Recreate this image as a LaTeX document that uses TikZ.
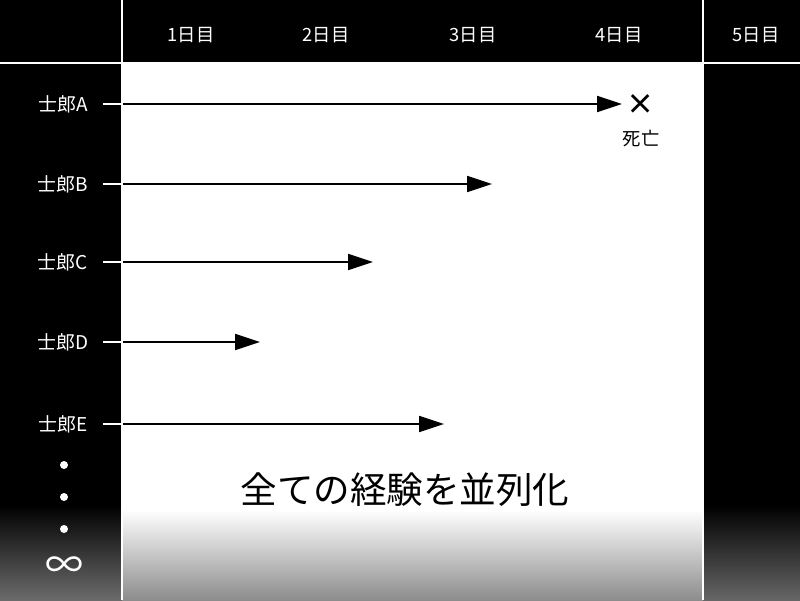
\documentclass[tikz,border=0pt]{standalone}
\usepackage{fontspec}
\setmainfont{Noto Sans CJK JP}[BoldFont={* Bold}]
\usetikzlibrary{arrows.meta}

\tikzset{
  hdr/.style={white, font=\fontsize{13}{13}\selectfont},
  lbl/.style={white, font=\fontsize{13.5}{14}\selectfont},
  stub/.style={white, line width=1pt},
  run/.style={black, line width=1pt, -{Triangle[length=0.62cm, width=0.4cm]}},
  dot/.style={circle, fill=white, inner sep=0pt, minimum size=0.2cm}
}

\begin{document}
\begin{tikzpicture}[x=0.025cm, y=-0.025cm]

  % Background
  \fill[black] (0,0) rectangle (800,600);
  \useasboundingbox (0,0) rectangle (800,600);
  \shade[top color=black, bottom color=black!58] (0,505) rectangle (122,600);
  \shade[top color=black, bottom color=black!60] (703,505) rectangle (800,600);

  % Panel
  \fill[white] (122,64) rectangle (703,510);
  \shade[top color=white, bottom color=black!45] (122,510) rectangle (703,600);

  % Grid lines
  \draw[white, line width=1.1pt] (0,63) -- (800,63);
  \draw[white, line width=1.1pt] (122,0) -- (122,600);
  \draw[white, line width=1.1pt] (703,0) -- (703,600);

  % Day labels
  \node[hdr] (d1) at (191,35) {1日目};
  \node[hdr] (d2) at (326,35) {2日目};
  \node[hdr] (d3) at (473,35) {3日目};
  \node[hdr] (d4) at (619,35) {4日目};
  \node[hdr] (d5) at (756,35) {5日目};

  % Shiro labels
  \node[lbl] (sA) at (63,104) {士郎A};
  \node[lbl] (sB) at (63,184) {士郎B};
  \node[lbl] (sC) at (63,262) {士郎C};
  \node[lbl] (sD) at (63,342) {士郎D};
  \node[lbl] (sE) at (63,424) {士郎E};

  % Start, edge and end points
  \coordinate (a0) at (103,104); \coordinate (ae) at (123,104); \coordinate (a1) at (622,104);
  \coordinate (b0) at (103,184); \coordinate (be) at (123,184); \coordinate (b1) at (492,184);
  \coordinate (c0) at (103,262); \coordinate (ce) at (123,262); \coordinate (c1) at (373,262);
  \coordinate (d0) at (103,342); \coordinate (de) at (123,342); \coordinate (dd1) at (260,342);
  \coordinate (e0) at (103,424); \coordinate (ee) at (123,424); \coordinate (e1) at (444,424);

  % Lifelines
  \draw[stub] (a0) -- (ae);
  \draw[run] (ae) -- (a1);
  \draw[stub] (b0) -- (be);
  \draw[run] (be) -- (b1);
  \draw[stub] (c0) -- (ce);
  \draw[run] (ce) -- (c1);
  \draw[stub] (d0) -- (de);
  \draw[run] (de) -- (dd1);
  \draw[stub] (e0) -- (ee);
  \draw[run] (ee) -- (e1);

  % Death of A
  \node[font=\bfseries\fontsize{20}{20}\selectfont] (x) at (641,105) {×};
  \node[font=\fontsize{13}{13}\selectfont] (dead) at (641,139) {死亡};

  % More clones
  \node[dot] (p1) at (64,465) {};
  \node[dot] (p2) at (64,497) {};
  \node[dot] (p3) at (64,529) {};
  \node[white, font=\fontsize{27}{27}\selectfont] (inf) at (64,568) {∞};

  % Caption
  \node[font=\fontsize{26}{26}\selectfont] (cap) at (405,490) {全ての経験を並列化};

\end{tikzpicture}
\end{document}
